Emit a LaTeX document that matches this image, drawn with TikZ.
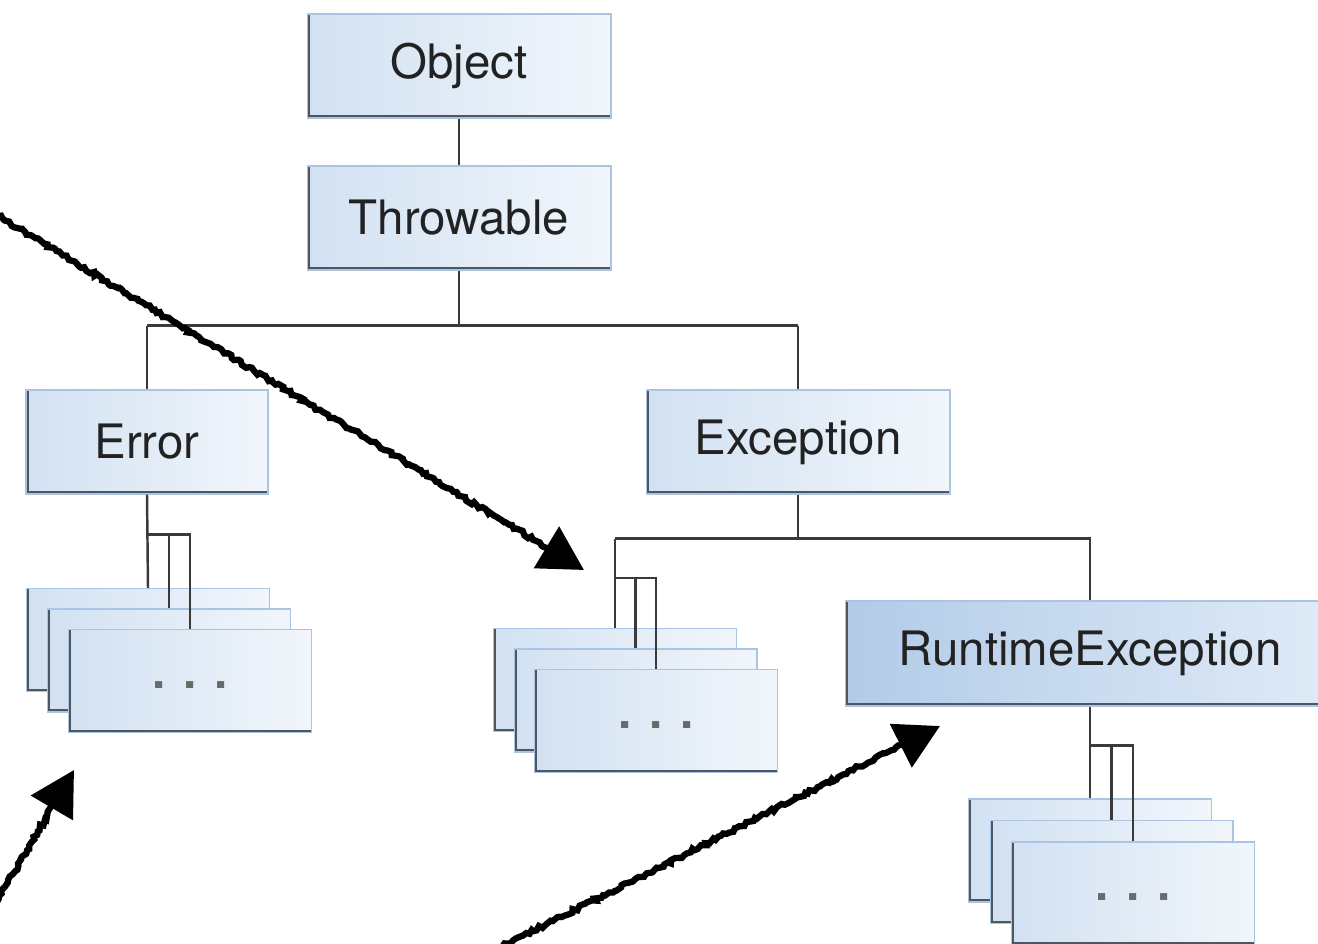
\documentclass[tikz,border=0pt]{standalone}
\usepackage{fontspec}
\setmainfont{TeX Gyre Heros}
\usetikzlibrary{arrows.meta,calc,decorations.pathmorphing}

\definecolor{boxleft}{HTML}{D2E1F2}
\definecolor{boxright}{HTML}{F1F6FB}
\definecolor{rtleft}{HTML}{B2CBE8}
\definecolor{rtright}{HTML}{E0EBF7}
\definecolor{boxedge}{HTML}{A9C5E3}
\definecolor{shadowgray}{HTML}{50565E}
\definecolor{linkgray}{HTML}{3A3A3A}
\definecolor{txtgray}{HTML}{222222}
\definecolor{dotgray}{HTML}{6A6A6A}

\tikzset{
  classbox/.style={draw=boxedge, line width=0.6pt, left color=boxleft, right color=boxright,
    minimum width=6.08cm, minimum height=2.08cm, inner sep=0pt, text=txtgray,
    font=\fontsize{27}{30}\selectfont,
    path picture={\draw[shadowgray, line width=3pt]
      (path picture bounding box.north west) -- (path picture bounding box.south west)
      -- (path picture bounding box.south east);}},
  stackbox/.style={classbox, minimum width=4.86cm, minimum height=2.06cm,
    text=dotgray, font=\fontsize{27}{30}\selectfont\bfseries},
  link/.style={draw=linkgray, line width=1.4pt},
  scribble/.style={line width=3.6pt, black,
    decorate, decoration={random steps, segment length=1.8pt, amplitude=1pt}},
  scribblehead/.style={line width=3.6pt, black, -{Triangle[length=25pt,width=27pt]}}
}

\begin{document}
\begin{tikzpicture}[x=0.02cm, y=-0.02cm]
\useasboundingbox (0,0) rectangle (1318,943);

% class boxes
\node[classbox] (object) at (459,66) {Object};
\node[classbox] (throwable) at (459,218) {Throwable};
\node[classbox, minimum width=4.84cm] (error) at (147,442) {Error};
\node[classbox] (exception) at (798,442) {Exception};
\node[classbox, minimum width=9.8cm, minimum height=2.1cm,
  left color=rtleft, right color=rtright] (rtex) at (1090,653.5) {RuntimeException};

% stacks of subclasses
\foreach \n/\k in {A/0,B/1}
  \node[stackbox] (err\n) at ({148+21*\k},{640+20.5*\k}) {};
\node[stackbox] (errC) at (190,681) {\raisebox{-8pt}{. . .}};

\foreach \n/\k in {A/0,B/1}
  \node[stackbox] (exc\n) at ({615+20.5*\k},{680+20.5*\k}) {};
\node[stackbox] (excC) at (656,721) {\raisebox{-8pt}{. . .}};

\foreach \n/\k in {A/0,B/1}
  \node[stackbox] (rte\n) at ({1090+21.5*\k},{850.5+21.5*\k}) {};
\node[stackbox] (rteC) at (1133,893.5) {\raisebox{-8pt}{. . .}};

% tree lines
\draw[link] (object) -- (throwable);
\draw[link] (throwable.south) -- ++(0,55) coordinate (thJ);
\draw[link] (thJ -| error.north) -- (thJ -| exception.north);
\draw[link] (thJ -| error.north) -- (error.north);
\draw[link] (thJ -| exception.north) -- (exception.north);

\draw[link] (exception.south) -- ++(0,44) coordinate (exJ);
\draw[link] (exJ -| excA.north) -| (rtex.north);
\draw[link] (exJ -| excA.north) -- (excA.north);

\coordinate (errJ) at ($(error.south)+(0,40)$);
\draw[link] (error.south) -- (errA.north);
\draw[link] (errJ) -| (errC.north);
\draw[link] (errJ -| errB.north) -- (errB.north);

\coordinate (excJ) at ($(excA.north)+(0,-50)$);
\draw[link] (excJ) -| (excC.north);
\draw[link] (excJ -| excB.north) -- (excB.north);

\coordinate (rteJ) at ($(rtex.south)+(0,39)$);
\draw[link] (rtex.south) -- (rteA.north);
\draw[link] (rteJ) -| (rteC.north);
\draw[link] (rteJ -| rteB.north) -- (rteB.north);

% hand drawn arrows
\coordinate (p1s) at (-5,214);
\coordinate (p1e) at (584,570);
\coordinate (p2s) at (-5,905);
\coordinate (p2e) at (74,770);
\coordinate (p3s) at (495,950);
\coordinate (p3e) at (940,726);

\draw[scribble] (p1s) -- ($(p1e)!20pt!(p1s)$);
\draw[scribblehead] ($(p1e)!22pt!(p1s)$) -- (p1e);
\draw[scribble] (p2s) -- ($(p2e)!20pt!(p2s)$);
\draw[scribblehead] ($(p2e)!22pt!(p2s)$) -- (p2e);
\draw[scribble] (p3s) -- ($(p3e)!20pt!(p3s)$);
\draw[scribblehead] ($(p3e)!22pt!(p3s)$) -- (p3e);
\end{tikzpicture}
\end{document}
